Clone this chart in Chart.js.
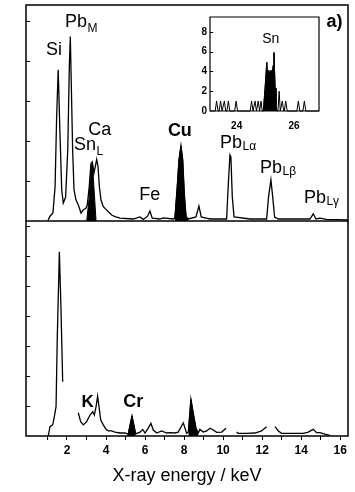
<!DOCTYPE html>
<html><head><meta charset="utf-8">
<script src="https://cdn.jsdelivr.net/npm/chart.js@4.4.0/dist/chart.umd.min.js"></script>
<style>
html,body{margin:0;padding:0;background:#fff;}
#wrap{position:relative;width:355px;height:492px;overflow:hidden;background:#fff;}
canvas{position:absolute;}
#top{left:0;top:0;}
#bot{left:0;top:221px;}
#ins{left:180px;top:8px;}
</style></head><body>
<div id="wrap">
<canvas id="top" width="355" height="222"></canvas>
<canvas id="bot" width="355" height="271"></canvas>
<canvas id="ins" width="145" height="130"></canvas>
</div>
<script>
// ---- data (energy in keV, intensity in arbitrary units) ----
const TOP_E = [1.03,1.13,1.28,1.39,1.47,1.55,1.64,1.73,1.81,1.93,2.04,2.12,2.17,2.22,2.29,2.36,2.46,2.58,2.72,2.84,2.97,3.04,3.14,3.23,3.30,3.38,3.45,3.52,3.59,3.66,3.74,3.86,4.00,4.12,4.29,4.46,4.72,5.40,5.74,5.91,6.13,6.25,6.37,6.76,6.93,7.45,7.53,7.65,7.74,7.84,7.93,8.01,8.10,8.22,8.61,8.76,8.88,9.07,9.33,10.18,10.26,10.35,10.40,10.47,10.56,11.38,12.23,12.33,12.45,12.54,12.64,12.83,13.42,14.45,14.62,14.76,14.96,15.30,16.40];
const TOP_I = [0.02,0.12,0.2,0.86,2.6,3.78,2.2,0.78,0.45,0.6,1.78,3.86,4.61,3.44,1.78,0.78,0.53,0.4,0.2,0.28,0.32,0.4,0.86,1.44,1.48,1.19,1.36,1.54,1.36,0.86,0.53,0.36,0.29,0.23,0.15,0.11,0.07,0.05,0.1,0.04,0.12,0.25,0.07,0.05,0.08,0.05,0.07,0.86,1.53,1.88,1.53,0.69,0.11,0.05,0.1,0.375,0.1,0.08,0.05,0.05,0.86,1.65,1.6,0.61,0.1,0.05,0.05,0.61,1.03,0.61,0.1,0.05,0.05,0.05,0.18,0.05,0.07,0.04,0.03];
// Sn L component (filled) under the Ca peak
const SNL_E = [3.01,3.13,3.22,3.30,3.38,3.49];
const SNL_I = [0,0.55,1.3,1.46,0.85,0];
const CU_RANGE = [7.5, 8.25];

const BOT_E = [1.04,1.13,1.27,1.35,1.44,1.50,1.61,1.69,1.78,2.18,2.58,2.70,2.84,3.01,3.18,3.32,3.40,3.49,3.57,3.64,3.73,3.86,4.00,4.12,4.29,4.46,4.72,4.97,5.09,5.14,5.33,5.52,5.74,5.88,6.00,6.17,6.30,6.42,6.60,6.85,7.11,7.28,7.53,7.70,7.96,8.13,8.22,8.35,8.47,8.61,8.73,8.81,8.98,9.16,9.33,9.50,9.67,9.93,10.15,10.40,10.69,10.78,11.21,11.63,11.97,12.23,12.45,12.66,12.83,13.00,13.42,14.11,14.36,14.62,14.79,14.96,15.22,15.47];
const BOT_I = [0,0.31,0.37,0.64,0.98,3.2,6.14,4.31,1.81,null,0.78,0.48,0.37,0.48,0.7,0.81,0.7,0.98,1.33,0.98,0.53,0.37,0.22,0.17,0.17,0.13,0.1,0.1,0.07,0.07,0.67,0.07,0.13,0.22,0.1,0.27,0.42,0.2,0.1,0.17,0.1,0.11,0.1,0.13,0.44,0.09,0.13,1.22,0.76,0.26,0.1,0.22,0.13,0.17,0.26,0.2,0.12,0.13,0.26,null,0.13,0.09,0.09,0.1,0.17,0.31,null,0.31,0.17,0.09,0.09,0.09,0.13,0.22,0.11,0.11,0.06,0.02];
const CR_RANGE = [5.09, 5.52];
const CU2_RANGE = [8.22, 8.73];

const INSET_E = [23.07,23.25,23.30,23.35,23.39,23.44,23.49,23.52,23.57,23.62,23.66,23.71,23.76,23.93,23.98,24.03,24.47,24.52,24.57,24.59,24.64,24.69,24.70,24.75,24.80,24.81,24.85,24.89,24.93,24.99,25.05,25.08,25.12,25.16,25.20,25.23,25.27,25.30,25.34,25.37,25.40,25.44,25.48,25.52,25.54,25.59,25.64,25.66,25.71,25.76,26.10,26.15,26.20,26.31,26.36,26.41,26.87];
const INSET_N = [0,0,1,0,0,1,0,0,1,0,0,1,0,0,1,0,0,1,0,0,1,0,0,1,0,0,1,0,0,2.3,4.9,3.3,4.1,3.6,4.1,3.1,4.6,5.9,2.3,0.6,0,0,2,0,0,1,0,0,1,0,0,1,0,0,1,0,0];
const SN_RANGE = [24.93, 25.40];

// ticks
const X_TICK_LABELS = [2,4,6,8,10,12,14,16];
const TOP_Y_TICKS = [1,2,3,4,5];
const BOT_Y_TICKS = [1,2,3,4,5,6,7];
const INSET_X_LABELS = [24,26];
const INSET_Y_TICKS = [0,2,4,6,8];

// peak labels (anchor in data units)
const TOP_LABELS = [
  {text:'Si', x:0.93, y:4.15},
  {text:'Pb', sub:'M', x:1.90, y:4.86, subDy:5},
  {text:'Ca', x:3.09, y:2.15},
  {text:'Sn', sub:'L', x:2.36, y:1.775, subDy:5},
  {text:'Cu', x:7.17, y:2.125, bold:true},
  {text:'Fe', x:5.70, y:0.525},
  {text:'Pb', sub:'Lα', x:9.84, y:1.82, subDy:2},
  {text:'Pb', sub:'Lβ', x:11.89, y:1.19, subDy:2},
  {text:'Pb', sub:'Lγ', x:14.14, y:0.44, subDy:2},
  {text:'a)', x:15.30, y:4.86, bold:true}
];
const BOT_LABELS = [
  {text:'K', x:2.75, y:0.98, bold:true, size:17},
  {text:'Cr', x:4.88, y:0.98, bold:true}
];
const INSET_LABELS = [
  {text:'Sn', x:24.89, y:6.83, size:14}
];

// ---- helpers ----
const FONT = "'Liberation Sans', Arial, Helvetica, sans-serif";
Chart.defaults.font.family = FONT;
Chart.defaults.color = '#000';

function pts(E, V) { return E.map((e, i) => ({x: e, y: V[i]})); }
function part(E, V, r) { return pts(E, V).filter(p => p.x >= r[0] - 1e-9 && p.x <= r[1] + 1e-9); }
const lineDs = (data, w) => ({data, borderColor:'#000', borderWidth:w || 1.3, pointRadius:0, fill:false, tension:0, spanGaps:false, clip:6});
const fillDs = (data) => ({data, borderColor:'#000', borderWidth:1, backgroundColor:'#000', pointRadius:0, fill:'origin', tension:0, clip:6});

function framePlugin(cfg) {
  return { id: 'frame', afterDraw(chart) {
    const {ctx, chartArea: a} = chart; const ys = chart.scales.y;
    ctx.save(); ctx.strokeStyle = '#000'; ctx.lineWidth = cfg.lw; ctx.lineCap = 'square';
    ctx.beginPath();
    if (cfg.sides.includes('t')) { ctx.moveTo(a.left, a.top); ctx.lineTo(a.right, a.top); }
    if (cfg.sides.includes('b')) { ctx.moveTo(a.left, a.bottom); ctx.lineTo(a.right, a.bottom); }
    if (cfg.sides.includes('l')) { ctx.moveTo(a.left, a.top); ctx.lineTo(a.left, a.bottom); }
    if (cfg.sides.includes('r')) { ctx.moveTo(a.right, a.top); ctx.lineTo(a.right, a.bottom); }
    ctx.stroke();
    ctx.lineWidth = 1; ctx.lineCap = 'butt';
    ctx.beginPath();
    cfg.yTicks.forEach(v => {
      const p = Math.round(ys.getPixelForValue(v)) + 0.5;
      ctx.moveTo(a.left, p); ctx.lineTo(a.left + cfg.tickLen, p);
    });
    ctx.stroke();
    ctx.restore();
  }};
}
function labelPlugin(items, defSize) {
  return { id: 'peakLabels', afterDatasetsDraw(chart) {
    const {ctx} = chart; const xs = chart.scales.x, ys = chart.scales.y;
    ctx.save(); ctx.fillStyle = '#000'; ctx.textBaseline = 'alphabetic'; ctx.textAlign = 'left';
    items.forEach(it => {
      const px = xs.getPixelForValue(it.x), py = ys.getPixelForValue(it.y);
      const size = it.size || defSize;
      ctx.font = (it.bold ? 'bold ' : '') + size + 'px ' + FONT;
      ctx.fillText(it.text, px, py);
      if (it.sub) {
        const w = ctx.measureText(it.text).width;
        ctx.font = '12px ' + FONT;
        ctx.fillText(it.sub, px + w + 0.5, py + (it.subDy || 3));
      }
    });
    ctx.restore();
  }};
}
const baseOpts = {responsive:false, animation:false, events:[], plugins:{legend:{display:false}, tooltip:{enabled:false}}};

// ---- top panel ----
new Chart(document.getElementById('top'), {
  type: 'line',
  data: { datasets: [
    fillDs(pts(SNL_E, SNL_I)),
    fillDs(part(TOP_E, TOP_I, CU_RANGE)),
    lineDs(pts(TOP_E, TOP_I))
  ]},
  options: Object.assign({}, baseOpts, {
    layout: {padding: {left:26, right:7, top:5, bottom:1}},
    scales: {
      x: {type:'linear', min:-0.1, max:16.4, display:false},
      y: {type:'linear', min:0, max:5.4, display:false}
    }
  }),
  plugins: [framePlugin({sides:'tblr', lw:1.5, yTicks:TOP_Y_TICKS, tickLen:4}), labelPlugin(TOP_LABELS, 18)]
});

// ---- bottom panel ----
new Chart(document.getElementById('bot'), {
  type: 'line',
  data: { datasets: [
    fillDs(part(BOT_E, BOT_I, CR_RANGE)),
    fillDs(part(BOT_E, BOT_I, CU2_RANGE)),
    lineDs(pts(BOT_E, BOT_I))
  ]},
  options: Object.assign({}, baseOpts, {
    layout: {padding: {left:26, right:7, top:0, bottom:0}},
    scales: {
      x: {type:'linear', min:-0.1, max:16.4, position:'bottom',
        border:{display:false},
        grid:{display:true, drawOnChartArea:false, drawTicks:true, tickLength:4, lineWidth:1,
              color: c => (c.tick && Number.isInteger(c.tick.value) && c.tick.value > 0) ? '#000' : 'rgba(0,0,0,0)'},
        ticks:{stepSize:1, includeBounds:false, autoSkip:false, maxRotation:0, minRotation:0, padding:3, color:'#000',
               font:{size:12, weight:'bold'},
               callback: v => X_TICK_LABELS.includes(v) ? String(v) : ''},
        title:{display:true, text:'X-ray energy / keV', color:'#000', font:{size:18}, padding:{top:0, bottom:5}},
        afterFit: s => { s.height = 56; }
      },
      y: {type:'linear', min:0, max:7.17, display:false}
    }
  }),
  plugins: [framePlugin({sides:'blr', lw:1.5, yTicks:BOT_Y_TICKS, tickLen:4}), labelPlugin(BOT_LABELS, 18)]
});

// ---- inset ----
new Chart(document.getElementById('ins'), {
  type: 'line',
  data: { datasets: [
    fillDs(part(INSET_E, INSET_N, SN_RANGE)),
    lineDs(pts(INSET_E, INSET_N), 1)
  ]},
  options: Object.assign({}, baseOpts, {
    layout: {padding: {left:0, right:6, top:6, bottom:0}},
    scales: {
      x: {type:'linear', min:23.07, max:26.87, position:'bottom',
        border:{display:false}, grid:{display:false, drawTicks:false},
        ticks:{stepSize:1, includeBounds:false, autoSkip:false, maxRotation:0, padding:9, color:'#000', font:{size:10, weight:'bold'},
               callback: v => INSET_X_LABELS.includes(v) ? String(v) : ''},
        afterFit: s => { s.height = 27; }
      },
      y: {type:'linear', min:0, max:9.5, position:'left',
        border:{display:false}, grid:{display:false, drawTicks:false},
        ticks:{stepSize:2, includeBounds:false, padding:3, color:'#000', font:{size:10, weight:'bold'},
               callback: v => INSET_Y_TICKS.includes(v) ? String(v) : ''},
        afterFit: s => { s.width = 30; }
      }
    }
  }),
  plugins: [framePlugin({sides:'tblr', lw:1.2, yTicks:INSET_Y_TICKS.slice(1), tickLen:3}), labelPlugin(INSET_LABELS, 14)]
});
</script>
</body></html>
